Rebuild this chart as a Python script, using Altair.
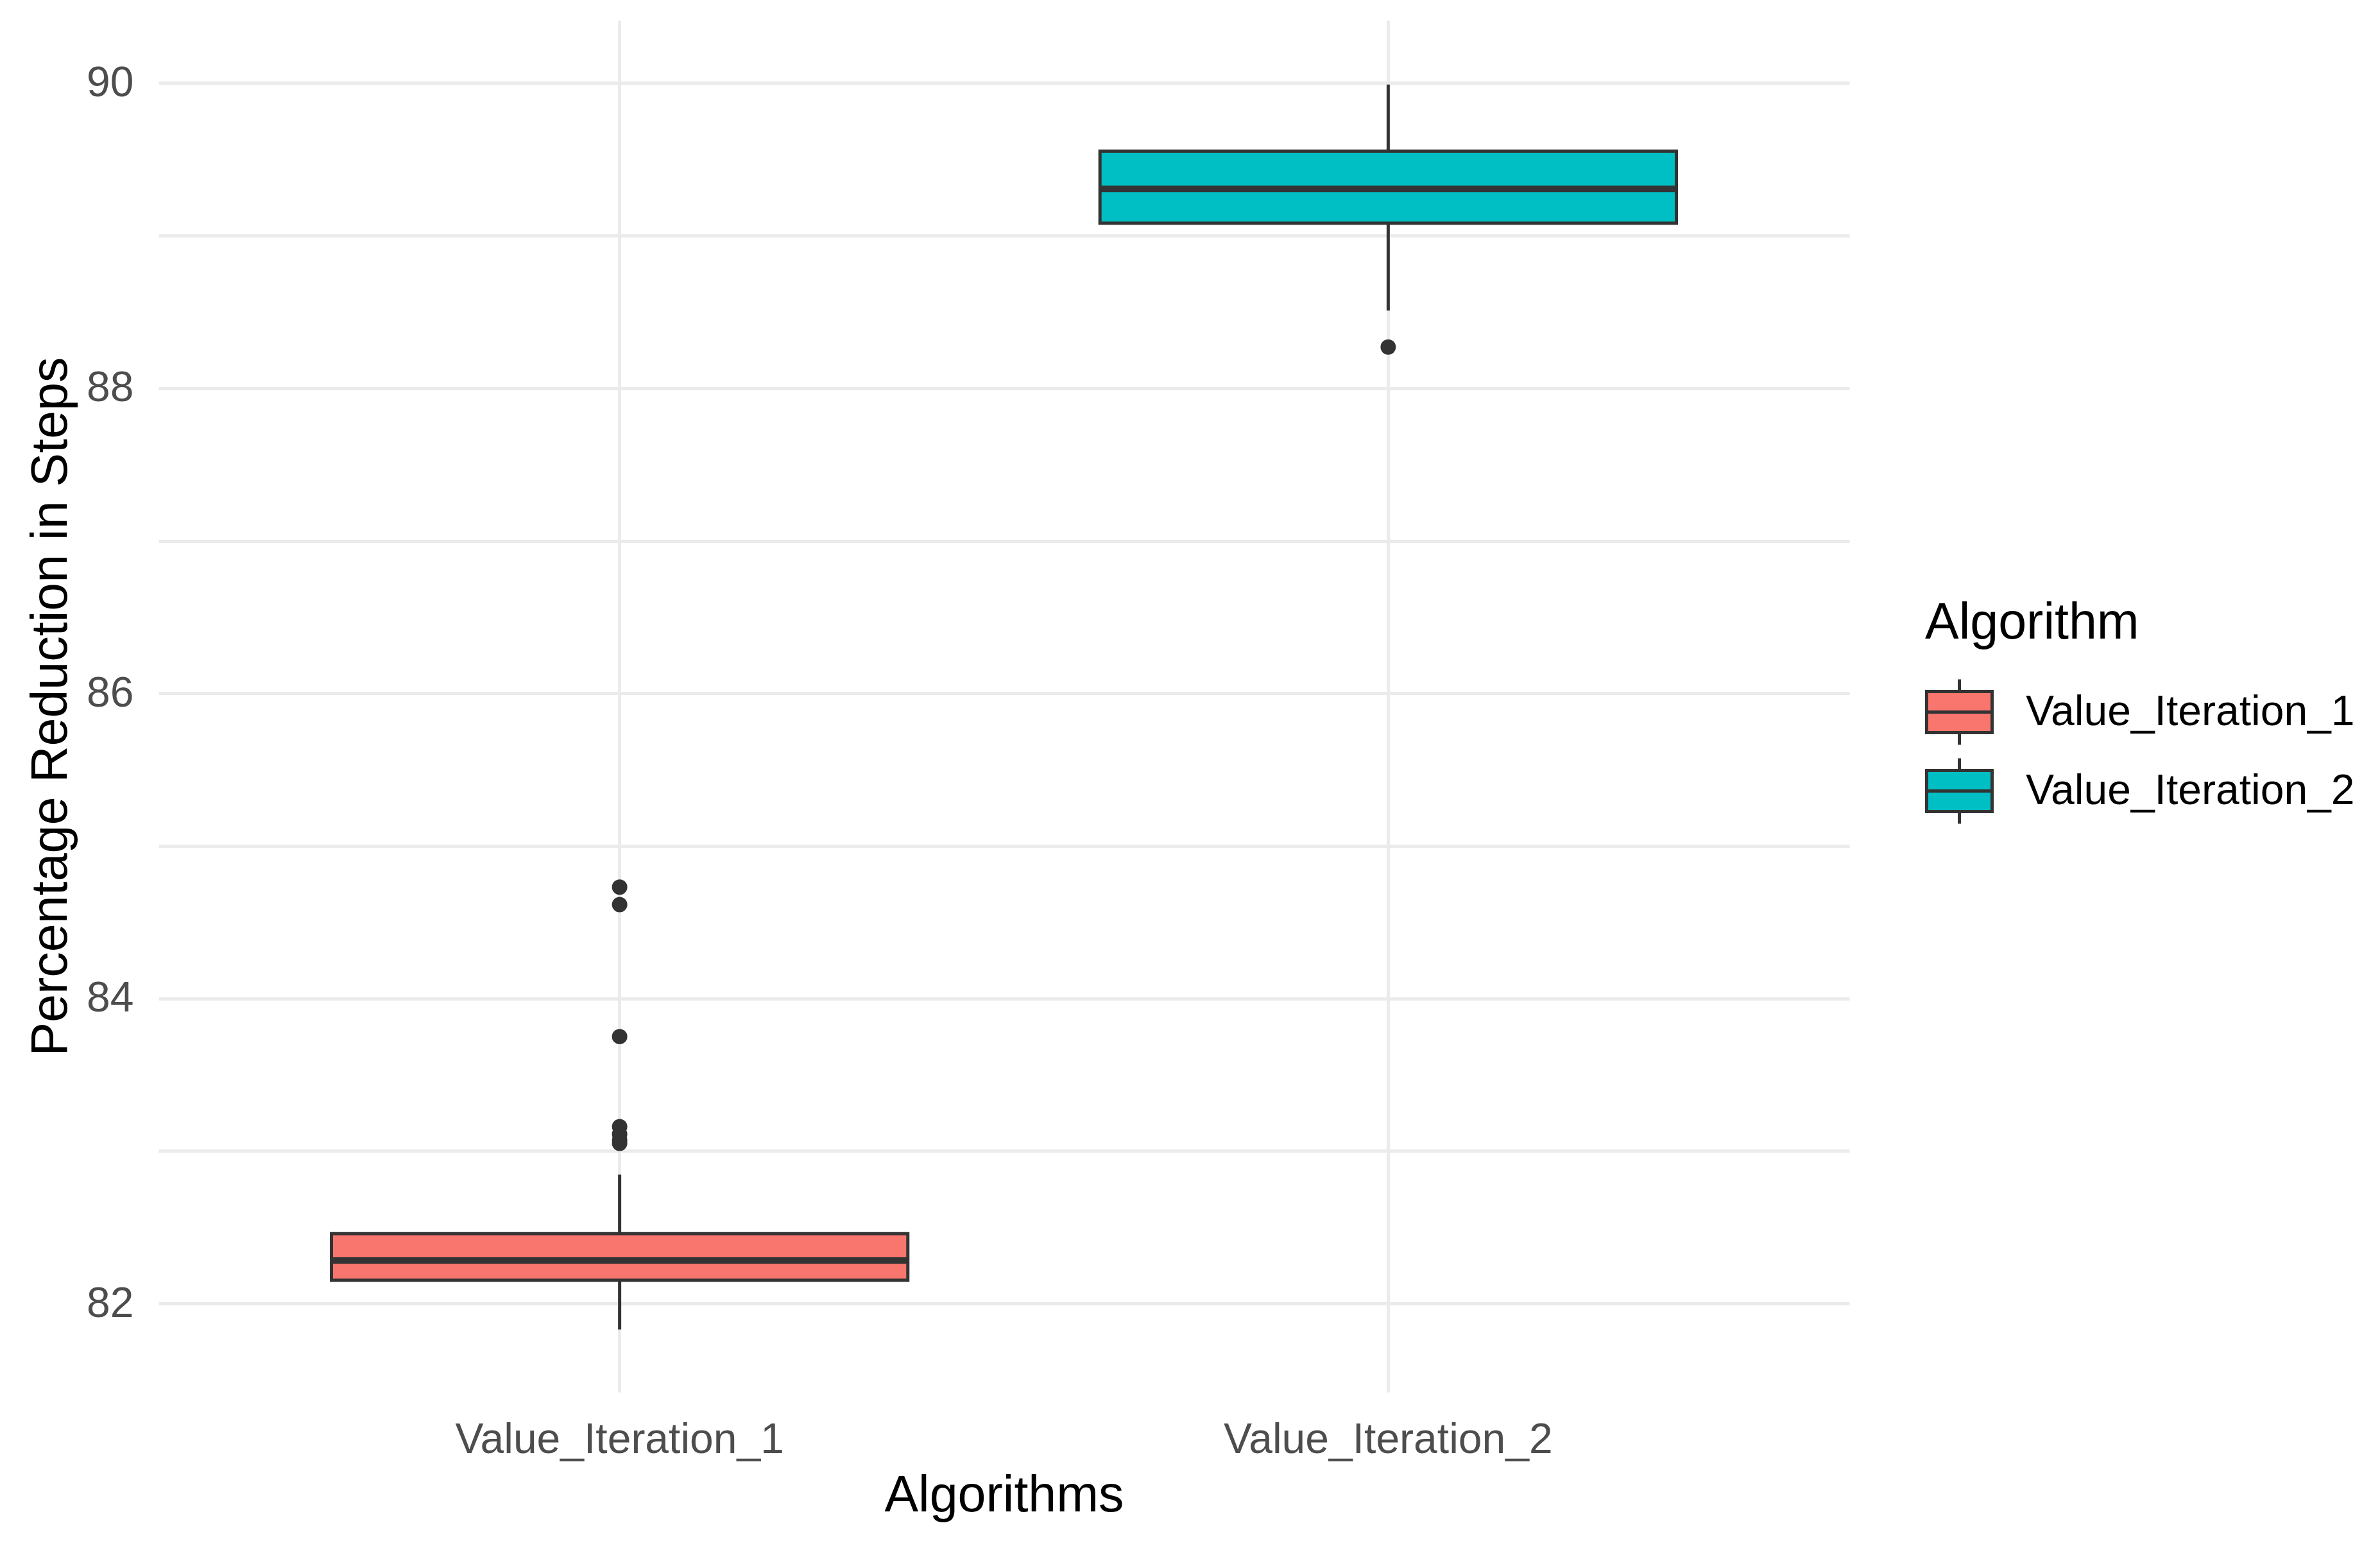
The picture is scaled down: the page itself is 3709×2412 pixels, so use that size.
import altair as alt
import pandas as pd

# ---- data ----
algorithms = ["Value_Iteration_1", "Value_Iteration_2"]
lower_whisker = [81.83, 88.51]
q1 = [82.153, 89.082]
median = [82.282, 89.307]
q3 = [82.458, 89.554]
upper_whisker = [82.845, 89.99]
outliers_vi1 = [84.73, 84.615, 83.75, 83.16, 83.11, 83.07, 83.05]
outliers_vi2 = [88.27]

fill_colors = ["#F8766D", "#00BFC4"]
y_ticks = [82, 83, 84, 85, 86, 87, 88, 89, 90]

summary = pd.DataFrame({
    "Algorithm": algorithms,
    "lo": lower_whisker,
    "q1": q1,
    "med": median,
    "q3": q3,
    "hi": upper_whisker,
})
outliers = pd.DataFrame({
    "Algorithm": [algorithms[0]] * len(outliers_vi1) + [algorithms[1]] * len(outliers_vi2),
    "value": outliers_vi1 + outliers_vi2,
})

FONT = "Liberation Sans"
PLOT_W = 2635
PLOT_H = 2137
BOX_W = PLOT_W / 2.2 * 0.75

x_enc = alt.X(
    "Algorithm:N",
    scale=alt.Scale(domain=algorithms, paddingInner=0.25, paddingOuter=0.225),
    axis=alt.Axis(
        title="Algorithms",
        grid=True, gridColor="#EBEBEB", gridWidth=5,
        ticks=False, tickSize=0, domain=False,
        labelAngle=0, labelFont=FONT, labelFontSize=66, labelColor="#4D4D4D",
        labelPadding=42, bandPosition=0.5, labelLimit=2000,
        titleFont=FONT, titleFontSize=79, titleFontWeight="normal", titleColor="#000000",
        titlePadding=16, titleLimit=3000,
    ),
)

y_axis = alt.Axis(
    title="Percentage Reduction in Steps",
    values=y_ticks,
    labelExpr="datum.value % 2 == 0 ? datum.label : ''",
    grid=True, gridColor="#EBEBEB", gridWidth=5,
    ticks=False, tickSize=0, domain=False,
    labelFont=FONT, labelFontSize=66, labelColor="#4D4D4D", labelPadding=39, labelLimit=2000,
    titleFont=FONT, titleFontSize=79, titleFontWeight="normal", titleColor="#000000",
    titlePadding=14, titleLimit=3000,
)
y_scale = alt.Scale(domain=[81.42, 90.41], nice=False, zero=False)

legend_symbol = "M-1,-0.627H1V0.627H-1Z M0,-1V-0.627 M0,0.627V1 M-1,0H1"

whiskers = alt.Chart(summary).mark_rule(color="#333333", strokeWidth=5).encode(
    x=x_enc,
    y=alt.Y("lo:Q", scale=y_scale, axis=y_axis),
    y2="hi:Q",
)

boxes = alt.Chart(summary).mark_bar(stroke="#333333", strokeWidth=5).encode(
    x=x_enc,
    y=alt.Y("q1:Q", scale=y_scale, axis=y_axis),
    y2="q3:Q",
    fill=alt.Fill(
        "Algorithm:N",
        scale=alt.Scale(domain=algorithms, range=fill_colors),
        legend=alt.Legend(
            title="Algorithm",
            orient="none", legendX=2753, legendY=901,
            padding=0,
            symbolType=legend_symbol, symbolSize=10404,
            symbolStrokeColor="#333333", symbolStrokeWidth=5,
            labelFont=FONT, labelFontSize=66, labelColor="#000000", labelOffset=50,
            labelLimit=2000,
            titleFont=FONT, titleFontSize=79, titleFontWeight="normal", titleColor="#000000",
            titlePadding=44, rowPadding=0, titleLimit=2000,
        ),
    ),
)

medians = alt.Chart(summary).mark_tick(color="#333333", thickness=10, size=BOX_W, opacity=1).encode(
    x=x_enc,
    y=alt.Y("med:Q", scale=y_scale, axis=y_axis),
)

points = alt.Chart(outliers).mark_circle(color="#333333", size=573, opacity=1).encode(
    x=x_enc,
    y=alt.Y("value:Q", scale=y_scale, axis=y_axis),
)

chart = alt.layer(whiskers, boxes, medians, points).properties(
    width=PLOT_W,
    height=PLOT_H,
    padding={"left": 239, "top": 24, "right": 819, "bottom": 235},
    autosize=alt.AutoSizeParams(type="none"),
    background="#FFFFFF",
).configure_view(stroke=None)

chart.save("out.html", embed_options={"renderer": "svg", "actions": False})
